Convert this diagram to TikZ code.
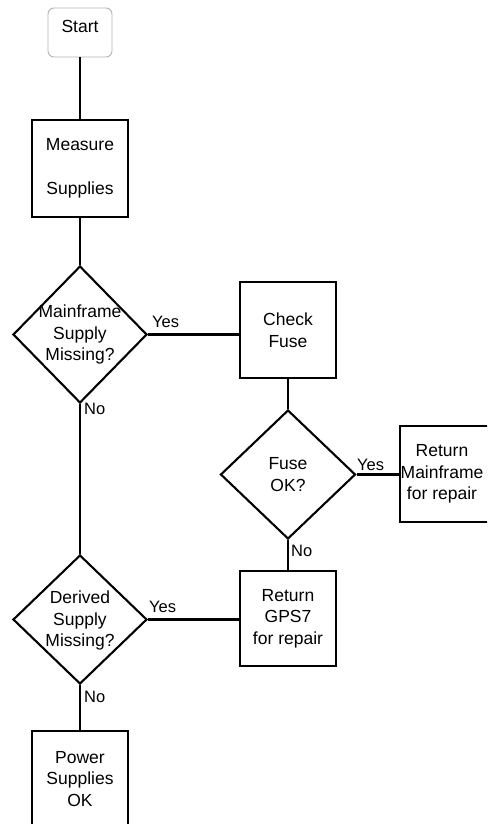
\documentclass[tikz,border=0pt]{standalone}
\usepackage{fontspec}
\setmainfont{Liberation Sans}
\usetikzlibrary{shapes.geometric}
\begin{document}
\begin{tikzpicture}[x=1pt,y=-1pt,
  font=\fontsize{17.5}{21.5}\selectfont,
  conn/.style={line width=2.1pt},
  box/.style={draw, line width=2.1pt, minimum width=96pt, minimum height=96pt, inner sep=0pt, align=center},
  dia/.style={draw, diamond, line width=2.1pt, inner sep=0pt, minimum width=134pt, minimum height=134pt},
  lbl/.style={inner sep=0pt, anchor=west, font=\fontsize{16.5}{19}\selectfont}]
\useasboundingbox (0,0) rectangle (487,824);
\clip (0,0) rectangle (487,824);
\node[draw=gray!60, line width=0.9pt, rounded corners=6pt, minimum width=64pt, minimum height=49pt, inner sep=0pt,
      label={[yshift=6pt]center:Start}] (start) at (80,32.5) {};
\node[box, minimum height=97pt] (measure) at (80,168.5) {Measure\\[22pt]Supplies};
\node[dia, minimum height=137pt, label={[align=center]center:Mainframe\\Supply\\Missing?}] (d1) at (80,334.5) {};
\node[box] (check) at (288,330) {Check\\Fuse};
\node[dia, minimum width=135pt, minimum height=129pt, label={[align=center]center:Fuse\\OK?}] (fuse) at (288,474.5) {};
\node[box, label={[align=center,xshift=-6pt]center:Return\\Mainframe\\for repair}] (retm) at (448,474) {};
\node[box, minimum height=95pt] (gps) at (288,618.5) {Return\\GPS7\\for repair};
\node[dia, minimum height=129pt, label={[align=center,yshift=-1pt]center:Derived\\Supply\\Missing?}] (d2) at (80,619.5) {};
\node[box] (power) at (80,779) {Power\\Supplies\\OK};

\draw[conn] (start.south) -- (measure.north);
\draw[conn] (measure.south) -- (d1.north);
\draw[conn] (d1.east) -- (d1.east -| check.west);
\draw[conn] (check.south) -- (fuse.north);
\draw[conn] (fuse.east) -- (fuse.east -| retm.west);
\draw[conn] (fuse.south) -- (gps.north);
\draw[conn] (d1.south) -- (d2.north);
\draw[conn] (d2.east) -- (d2.east -| gps.west);
\draw[conn] (d2.south) -- (power.north);

\node[lbl] (y1) at (152,322) {Yes};
\node[lbl] (n1) at (84,409) {No};
\node[lbl] (y2) at (357,465) {Yes};
\node[lbl] (n2) at (291,551) {No};
\node[lbl] (y3) at (149,607) {Yes};
\node[lbl] (n3) at (84,697) {No};
\end{tikzpicture}
\end{document}
